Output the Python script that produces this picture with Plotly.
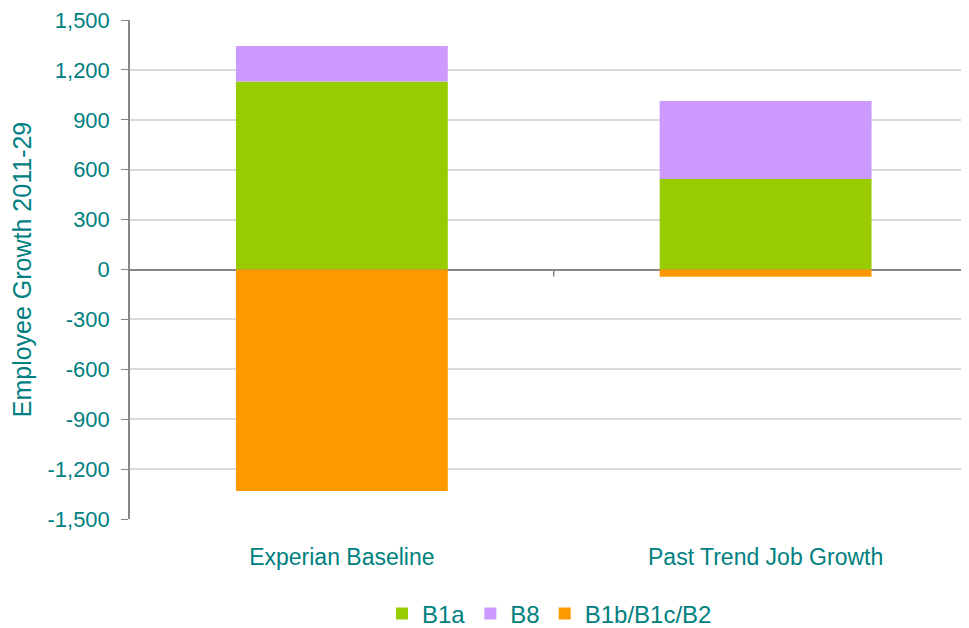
import plotly.graph_objects as go

categories = ["Experian Baseline", "Past Trend Job Growth"]
b1a = [1130, 544]
b8 = [213, 469]
b1b_b1c_b2 = [-1331, -44]
y_ticks = [-1500, -1200, -900, -600, -300, 0, 300, 600, 900, 1200, 1500]
y_ticktext = [f"{v:,}" for v in y_ticks]

TEAL = "#008080"
FONT = "Liberation Sans, Arial, sans-serif"

fig = go.Figure()
fig.add_trace(go.Bar(name="B1a", x=categories, y=b1a, marker_color="#99CC00", width=0.5, marker_line_width=0))
fig.add_trace(go.Bar(name="B8", x=categories, y=b8, marker_color="#CC99FF", width=0.5, marker_line_width=0))
fig.add_trace(go.Bar(name="B1b/B1c/B2", x=categories, y=b1b_b1c_b2, marker_color="#FF9900", width=0.5, marker_line_width=0))

fig.update_layout(
    width=961, height=620,
    barmode="relative",
    plot_bgcolor="white", paper_bgcolor="white",
    margin=dict(l=122, r=0, t=12, b=109, autoexpand=False),
    font=dict(family=FONT, color=TEAL, size=22),
    legend=dict(orientation="h", x=0.5, xanchor="center", y=-0.19, yanchor="middle",
                font=dict(size=24, color=TEAL), itemwidth=30, tracegroupgap=0),
    showlegend=True,
)
fig.update_xaxes(
    range=[-0.5, 1.48],
    showgrid=False, showline=False, zeroline=False,
    ticks="outside", ticklen=17, tickcolor="rgba(0,0,0,0)",
    tickfont=dict(family=FONT, size=23, color=TEAL),
)
fig.update_yaxes(
    range=[-1500, 1500], tickvals=y_ticks, ticktext=y_ticktext,
    ticklabeloverflow="allow",
    showgrid=True, gridcolor="#D9D9D9", gridwidth=1.5,
    zeroline=True, zerolinecolor="#868686", zerolinewidth=1.5,
    showline=True, linecolor="#868686", linewidth=1.5,
    ticks="outside", ticklen=7, tickcolor="#868686", ticklabelstandoff=7,
    tickfont=dict(size=22, color=TEAL),
    title=dict(text="Employee Growth 2011-29", font=dict(size=25, color=TEAL), standoff=11),
)
# category boundary tick on the zero line
fig.add_shape(type="line", xref="x", yref="y", x0=0.5, x1=0.5,
              ysizemode="pixel", yanchor=0, y0=0, y1=-7,
              line=dict(color="#868686", width=1.5))

fig.write_html("out.html")
